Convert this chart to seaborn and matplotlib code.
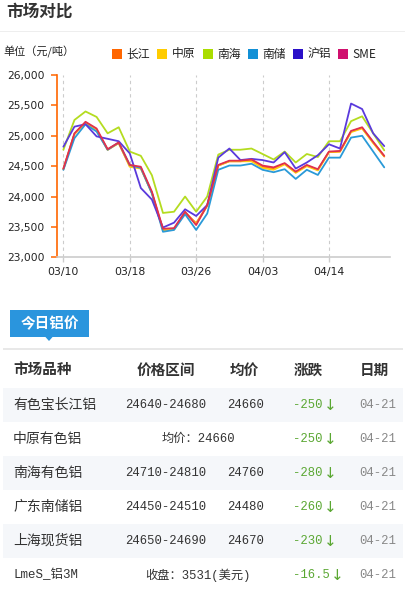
import numpy as np
import pandas as pd
import matplotlib
matplotlib.use('Agg')
import matplotlib.pyplot as plt
import seaborn as sns
from matplotlib.patches import Rectangle, Polygon

# ---------------- data ----------------
dates = ['03/10', '03/11', '03/12', '03/13', '03/14', '03/17', '03/18', '03/19', '03/20', '03/21',
         '03/24', '03/25', '03/26', '03/27', '03/28', '03/31', '04/01', '04/02', '04/03', '04/07',
         '04/08', '04/09', '04/10', '04/11', '04/14', '04/15', '04/16', '04/17', '04/18', '04/21']
tick_labels = ['03/10', '03/18', '03/26', '04/03', '04/14']

changjiang = [24450, 25030, 25220, 25100, 24770, 24880, 24500, 24470, 24060, 23450,
              23460, 23740, 23560, 23850, 24510, 24580, 24580, 24600, 24490, 24460,
              24540, 24400, 24510, 24440, 24730, 24740, 25070, 25130, 24890, 24660]
zhongyuan = [24450, 25030, 25210, 25090, 24770, 24880, 24490, 24460, 24060, 23450,
             23460, 23740, 23550, 23850, 24510, 24580, 24580, 24580, 24470, 24440,
             24530, 24390, 24500, 24430, 24730, 24740, 25060, 25120, 24880, 24660]
nanhai = [24770, 25260, 25400, 25310, 25040, 25140, 24740, 24670, 24350, 23730,
          23750, 24000, 23750, 24000, 24690, 24770, 24770, 24790, 24700, 24610,
          24740, 24560, 24700, 24650, 24910, 24910, 25240, 25320, 25040, 24760]
nanchu = [24440, 24960, 25190, 25070, 24770, 24890, 24520, 24470, 24050, 23420,
          23450, 23710, 23450, 23720, 24440, 24510, 24510, 24540, 24440, 24400,
          24450, 24290, 24440, 24355, 24640, 24640, 24970, 25000, 24740, 24480]
hulv = [24820, 25150, 25190, 24990, 24950, 24910, 24710, 24140, 23950, 23490,
        23570, 23790, 23680, 23860, 24640, 24790, 24600, 24620, 24600, 24560,
        24730, 24460, 24560, 24680, 24860, 24790, 25530, 25440, 25040, 24830]
sme = [24460, 25040, 25230, 25120, 24780, 24890, 24520, 24490, 24080, 23470,
       23480, 23750, 23530, 23860, 24520, 24590, 24590, 24610, 24510, 24480,
       24550, 24410, 24520, 24450, 24740, 24750, 25080, 25140, 24900, 24670]

series_names = ['长江', '中原', '南海', '南储', '沪铝', 'SME']
series_values = [changjiang, zhongyuan, nanhai, nanchu, hulv, sme]

table_header = ['市场品种', '价格区间', '均价', '涨跌', '日期']
table_markets = ['有色宝长江铝', '中原有色铝', '南海有色铝', '广东南储铝', '上海现货铝', 'LmeS_铝3M']
table_ranges = ['24640-24680', '均价：24660', '24710-24810', '24450-24510', '24650-24690', '收盘：3531(美元)']
table_avgs = ['24660', '', '24760', '24480', '24670', '']
table_changes = ['-250', '-250', '-280', '-260', '-230', '-16.5']
table_dates = ['04-21', '04-21', '04-21', '04-21', '04-21', '04-21']

# ---------------- styles ----------------
legend_colors = ['#FF6600', '#FFCC00', '#AADD00', '#1290D6', '#2A10C8', '#D0106E']
line_colors = ['#FF6A10', '#FFCC10', '#B4DC20', '#2A9AD8', '#5A3ADC', '#E0304E']

sns.set_theme(style='white')
plt.rcParams['font.family'] = ['Noto Sans CJK SC', 'DejaVu Sans']

W, H = 405, 595
fig = plt.figure(figsize=(W / 100, H / 100), dpi=100)
fig.patch.set_facecolor('white')


def fx(x):
    return x / W


def fy(y):
    return 1 - y / H


# title
fig.text(fx(6), fy(12), '市场对比', fontsize=12, fontweight='bold', color='#333333',
         ha='left', va='center')
fig.add_artist(Rectangle((0, fy(32)), 1, 1.5 / H, transform=fig.transFigure,
                         facecolor='#eeeeee', edgecolor='none'))

# unit + legend
fig.text(fx(3), fy(52), '单位（元/吨）', fontsize=8, color='#222222', ha='left', va='center')
leg_sq_x = [112, 157, 203, 248, 293, 338]
for x0, name, col in zip(leg_sq_x, series_names, legend_colors):
    fig.add_artist(Rectangle((fx(x0), fy(59)), 10 / W, 10 / H, transform=fig.transFigure,
                             facecolor=col, edgecolor='none'))
    fig.text(fx(x0 + 14.5), fy(54), name, fontsize=8.5, color='#222222', ha='left', va='center',
             family=['Noto Sans CJK SC', 'DejaVu Sans'])

# ---------------- line chart ----------------
ax = fig.add_axes([fx(57.3), fy(257.3), (390 - 57.3) / W, (257.3 - 75) / H])
rows = []
for name, vals in zip(series_names, series_values):
    for i, v in enumerate(vals):
        rows.append({'idx': i, 'date': dates[i], 'value': v, 'series': name})
df = pd.DataFrame(rows)

sns.lineplot(data=df, x='idx', y='value', hue='series', hue_order=series_names,
             palette=dict(zip(series_names, line_colors)), legend=False, ax=ax,
             linewidth=1.3, sort=False)

ax.set_xlim(-0.55, len(dates) - 1 + 0.52)
ax.set_ylim(23000, 26000)
yt = list(range(23000, 26001, 500))
ax.set_yticks(yt)
ax.set_yticklabels([f'{v:,}' for v in yt])
tick_idx = [dates.index(t) for t in tick_labels]
ax.set_xticks(tick_idx)
ax.set_xticklabels(tick_labels)
for t in tick_idx:
    ax.axvline(t, color='#cccccc', ls=(0, (3, 3)), lw=0.8, zorder=0)
ax.set_xlabel('')
ax.set_ylabel('')
ax.grid(False)
for s in ['top', 'right']:
    ax.spines[s].set_visible(False)
ax.spines['left'].set_color('#FF6600')
ax.spines['left'].set_linewidth(1.2)
ax.spines['bottom'].set_color('#cccccc')
ax.spines['bottom'].set_linewidth(1.2)
ax.tick_params(axis='y', colors='#FF6600', length=4.3, width=1.1, direction='out',
               labelcolor='#222222', labelsize=7.7, pad=5, left=True)
ax.tick_params(axis='x', colors='#cccccc', length=3.5, width=1, direction='out',
               labelcolor='#222222', labelsize=7.8, pad=3.5, bottom=True)
for lab in ax.get_yticklabels() + ax.get_xticklabels():
    lab.set_fontfamily('DejaVu Sans')

# ---------------- table ----------------
# tab
fig.add_artist(Rectangle((fx(10), fy(337)), 79 / W, 27 / H, transform=fig.transFigure,
                         facecolor='#2a95dd', edgecolor='none'))
fig.add_artist(Polygon([(fx(45), fy(336.5)), (fx(53), fy(336.5)), (fx(49), fy(341))],
                       closed=True, transform=fig.transFigure, facecolor='#2a95dd',
                       edgecolor='none'))
fig.text(fx(49.5), fy(323.5), '今日铝价', fontsize=10.5, fontweight='bold', color='white',
         ha='center', va='center')
fig.add_artist(Rectangle((fx(3), fy(350.3)), 400 / W, 1.8 / H, transform=fig.transFigure,
                         facecolor='#e8e8e8', edgecolor='none'))

# header
hdr_y = 370
fig.text(fx(13), fy(hdr_y), table_header[0], fontsize=10.5, fontweight='bold', color='#333333',
         ha='left', va='center')
fig.text(fx(166), fy(hdr_y), table_header[1], fontsize=10.5, fontweight='bold', color='#333333',
         ha='center', va='center')
fig.text(fx(244), fy(hdr_y), table_header[2], fontsize=10.5, fontweight='bold', color='#333333',
         ha='center', va='center')
fig.text(fx(294), fy(hdr_y), table_header[3], fontsize=10.5, fontweight='bold', color='#333333',
         ha='left', va='center')
fig.text(fx(360), fy(hdr_y), table_header[4], fontsize=10.5, fontweight='bold', color='#333333',
         ha='left', va='center')

mono = ['Liberation Mono', 'Noto Sans CJK SC']
green = '#5aa732'
row_h = 34
for r in range(len(table_markets)):
    top = 388 + r * row_h
    cy = top + row_h / 2
    if r % 2 == 0:
        fig.add_artist(Rectangle((fx(3), fy(top + row_h)), 400 / W, row_h / H,
                                 transform=fig.transFigure, facecolor='#f5f7fa',
                                 edgecolor='none', zorder=0))
    mk = table_markets[r]
    if mk.startswith('Lme'):
        fig.text(fx(13), fy(cy), mk, fontsize=9, color='#333333', ha='left', va='center',
                 family=mono)
    else:
        fig.text(fx(13), fy(cy), mk, fontsize=10, color='#333333', ha='left', va='center')
    if table_avgs[r]:
        fig.text(fx(165.5), fy(cy), table_ranges[r], fontsize=8.8, color='#333333',
                 ha='center', va='center', family=mono)
        fig.text(fx(246), fy(cy), table_avgs[r], fontsize=8.8, color='#333333',
                 ha='center', va='center', family=mono)
    else:
        fig.text(fx(198), fy(cy), table_ranges[r], fontsize=8.8, color='#333333',
                 ha='center', va='center', family=mono)
    fig.text(fx(293), fy(cy), table_changes[r], fontsize=8.8, color=green,
             ha='left', va='center', family=mono)
    arrow_x = 293 + 7.3 * len(table_changes[r]) + 1.5
    fig.text(fx(arrow_x), fy(cy + 0.5), '↓', fontsize=11, color=green,
             ha='left', va='center', family='DejaVu Sans')
    fig.text(fx(359), fy(cy), table_dates[r], fontsize=8.8, color='#888888',
             ha='left', va='center', family=mono)

fig.savefig('out.png', dpi=100, facecolor='white')
